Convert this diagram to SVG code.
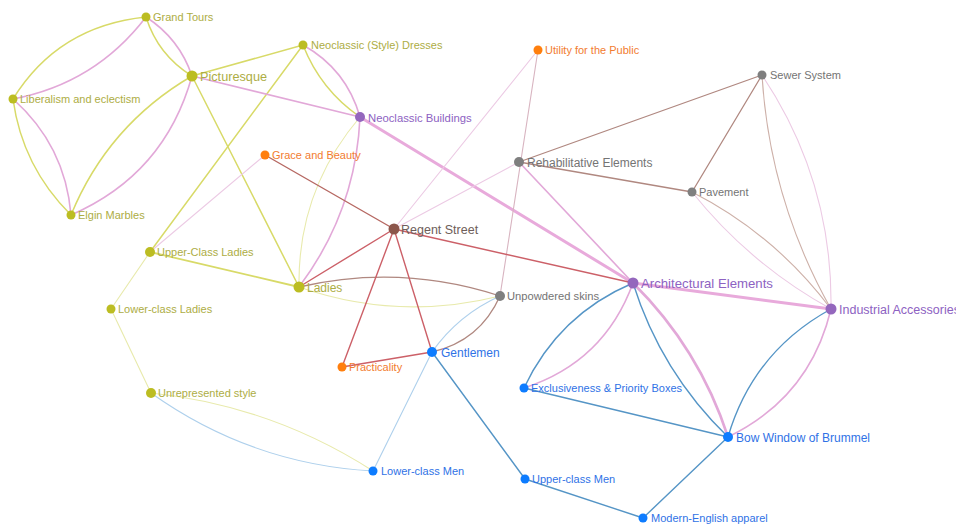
<svg xmlns="http://www.w3.org/2000/svg" width="956" height="524" viewBox="0 0 956 524">
<style>
.e{fill:none;stroke-linecap:round}
.ol{stroke:#d8da68;stroke-width:1.5}
.ol2{stroke:#e8eaac;stroke-width:1.1}
.pk{stroke:#e2a8d8;stroke-width:1.6}
.pkT{stroke:#e8aadb;stroke-width:3}
.pkL{stroke:#eccae4;stroke-width:1.1}
.rd{stroke:#cc6068;stroke-width:1.4}
.bn{stroke:#b08880;stroke-width:1.3}
.bnL{stroke:#cdb0a8;stroke-width:1.1}
.bl{stroke:#5595c6;stroke-width:1.4}
.blL{stroke:#aed0ec;stroke-width:1.1}
text{font-family:"Liberation Sans",Arial,sans-serif;font-size:11px}
.m text{font-size:12px}
.l text{font-size:12.7px}
.o circle{fill:#bcbd22}.o text{fill:#adad44}
.r circle{fill:#ff7f0e}.r text{fill:#f27c30}
.p circle{fill:#9467bd}.p text{fill:#8d62c2}
.g circle{fill:#7f7f7f}.g text{fill:#747474}
.b circle{fill:#0d7cff}.b text{fill:#2f72e6}
.n circle{fill:#8c564b}.n text{fill:#6e5e5a}
</style>
<rect width="956" height="524" fill="#ffffff"/>
<g id="connectors">
<path class="e ol" d="M146,17 Q58,26 13,99"/>
<path class="e pk" d="M146,17 Q95.3,83.5 13,99"/>
<path class="e ol" d="M146,17 Q158,55.1 192,76"/>
<path class="e pk" d="M146,17 Q179.3,38.5 192,76"/>
<path class="e ol" d="M13,99 Q22.3,166.8 71,215"/>
<path class="e pk" d="M13,99 Q65.2,145.4 71,215"/>
<path class="e ol" d="M192,76 Q108,125 71,215"/>
<path class="e pk" d="M192,76 Q164.7,174.4 71,215"/>
<path class="e ol" d="M303,45 Q320.5,89.7 360,117"/>
<path class="e pk" d="M303,45 Q346.4,69.2 360,117"/>
<path class="e pk" d="M360,117 Q355.8,211.5 299,287"/>
<path class="e ol2" d="M360,117 Q297.5,190.5 299,287"/>
<path class="e bn" d="M299,287 Q400.8,263.5 500,296"/>
<path class="e ol2" d="M299,287 Q398.2,321.5 500,296"/>
<path class="e bn" d="M432,352 Q480,341 500,296"/>
<path class="e blL" d="M432,352 Q458.4,314.7 500,296"/>
<path class="e blL" d="M151,393 Q250.7,464.1 373,471"/>
<path class="e ol2" d="M151,393 Q271.3,405.6 373,471"/>
<path class="e bnL" d="M762,75 Q769.6,199.9 831,309"/>
<path class="e pkL" d="M762,75 Q832.9,181.2 831,309"/>
<path class="e bnL" d="M692,192 Q775,234.4 831,309"/>
<path class="e pkL" d="M692,192 Q749.9,264.3 831,309"/>
<path class="e bl" d="M633,283 Q558.4,314.6 524,388"/>
<path class="e pk" d="M633,283 Q604.2,362.1 524,388"/>
<path class="e bl" d="M633,283 Q660.9,372.1 728,437"/>
<path class="e pk" d="M633,283 Q699.2,348.5 728,437" style="stroke-width:2.6"/>
<path class="e bl" d="M831,309 Q753,351.7 728,437"/>
<path class="e pk" d="M831,309 Q809.9,397.5 728,437"/>
<path class="e ol" d="M192,76 L303,45"/>
<path class="e ol" d="M192,76 L299,287"/>
<path class="e ol" d="M303,45 L150,252"/>
<path class="e ol" d="M150,252 L299,287" style="stroke-width:1.8"/>
<path class="e ol2" d="M150,252 L111,309"/>
<path class="e ol2" d="M111,309 L151,393"/>
<path class="e pk" d="M192,76 L360,117"/>
<path class="e pk" d="M519,162 L633,283"/>
<path class="e pkT" d="M360,117 L633,283"/>
<path class="e pkT" d="M633,283 L831,309"/>
<path class="e pkL" d="M265,155 L150,252"/>
<path class="e pkL" d="M394,229 L538,50"/>
<path class="e pkL" d="M394,229 L519,162"/>
<path class="e pkL" d="M538,50 L500,296" style="stroke:#d8b4c0"/>
<path class="e rd" d="M265,155 L394,229" style="stroke:#b66862"/>
<path class="e rd" d="M394,229 L299,287"/>
<path class="e rd" d="M394,229 L342,367"/>
<path class="e rd" d="M394,229 L432,352"/>
<path class="e rd" d="M394,229 L633,283"/>
<path class="e rd" d="M432,352 L342,367"/>
<path class="e bn" d="M519,162 L762,75"/>
<path class="e bn" d="M519,162 L692,192"/>
<path class="e bn" d="M762,75 L692,192"/>
<path class="e bl" d="M432,352 L525,479"/>
<path class="e bl" d="M525,479 L643,518"/>
<path class="e bl" d="M728,437 L643,518"/>
<path class="e bl" d="M524,388 L728,437"/>
<path class="e blL" d="M432,352 L373,471"/>
</g>
<g id="n-grand-tours" class="o"><circle cx="146" cy="17" r="4.5"/><text x="153" y="21">Grand Tours</text></g>
<g id="n-picturesque" class="o l"><circle cx="192" cy="76" r="5.5"/><text x="200" y="80.5">Picturesque</text></g>
<g id="n-liberalism" class="o"><circle cx="13" cy="99" r="4.5"/><text x="20" y="103">Liberalism and eclectism</text></g>
<g id="n-elgin" class="o"><circle cx="71" cy="215" r="4.5"/><text x="78" y="219">Elgin Marbles</text></g>
<g id="n-neo-dresses" class="o"><circle cx="303" cy="45" r="4.5"/><text x="311" y="49">Neoclassic (Style) Dresses</text></g>
<g id="n-neo-buildings" class="p"><circle cx="360" cy="117" r="5"/><text x="368" y="121.5" style="font-size:11.3px">Neoclassic Buildings</text></g>
<g id="n-grace" class="r"><circle cx="265" cy="155" r="4.5"/><text x="272" y="159">Grace and Beauty</text></g>
<g id="n-utility" class="r"><circle cx="538" cy="50" r="4.5"/><text x="545" y="54">Utility for the Public</text></g>
<g id="n-sewer" class="g"><circle cx="762" cy="75" r="4.5"/><text x="770" y="79">Sewer System</text></g>
<g id="n-rehab" class="g m"><circle cx="519" cy="162" r="5"/><text x="527" y="166.5">Rehabilitative Elements</text></g>
<g id="n-pavement" class="g"><circle cx="692" cy="192" r="4.5"/><text x="699" y="196">Pavement</text></g>
<g id="n-regent" class="n l"><circle cx="394" cy="229" r="5.5"/><text x="401" y="233.5" style="font-size:12.5px">Regent Street</text></g>
<g id="n-upper-ladies" class="o"><circle cx="150" cy="252" r="5"/><text x="157" y="256">Upper-Class Ladies</text></g>
<g id="n-ladies" class="o m"><circle cx="299" cy="287" r="5.5"/><text x="307" y="291.5">Ladies</text></g>
<g id="n-unpowdered" class="g"><circle cx="500" cy="296" r="5"/><text x="507" y="300" style="font-size:11.2px">Unpowdered skins</text></g>
<g id="n-arch" class="p l"><circle cx="633" cy="283" r="5.5"/><text x="641" y="287.5" style="font-size:13.2px">Architectural Elements</text></g>
<g id="n-industrial" class="p l"><circle cx="831" cy="309" r="5.5"/><text x="839" y="313.5" style="font-size:12.5px">Industrial Accessories</text></g>
<g id="n-lower-ladies" class="o"><circle cx="111" cy="309" r="4.5"/><text x="118" y="313">Lower-class Ladies</text></g>
<g id="n-gentlemen" class="b m"><circle cx="432" cy="352" r="5"/><text x="441" y="356.5">Gentlemen</text></g>
<g id="n-practicality" class="r"><circle cx="342" cy="367" r="4.5"/><text x="349" y="371">Practicality</text></g>
<g id="n-exclusiveness" class="b"><circle cx="524" cy="388" r="4.5"/><text x="531" y="392">Exclusiveness &amp; Priority Boxes</text></g>
<g id="n-unrepresented" class="o"><circle cx="151" cy="393" r="5"/><text x="158" y="397">Unrepresented style</text></g>
<g id="n-bow" class="b m"><circle cx="728" cy="437" r="5"/><text x="736" y="441.5">Bow Window of Brummel</text></g>
<g id="n-lower-men" class="b"><circle cx="373" cy="471" r="4.5"/><text x="381" y="475">Lower-class Men</text></g>
<g id="n-upper-men" class="b"><circle cx="525" cy="479" r="4.5"/><text x="532" y="483">Upper-class Men</text></g>
<g id="n-modern" class="b"><circle cx="643" cy="518" r="4.5"/><text x="651" y="522">Modern-English apparel</text></g>
</svg>
